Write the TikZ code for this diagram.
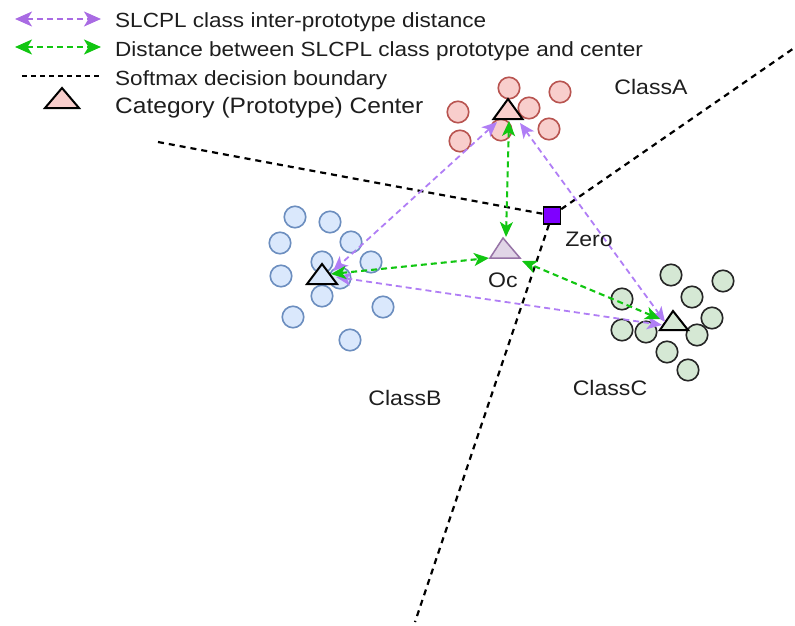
\documentclass[tikz,border=0pt]{standalone}
\usepackage{fontspec}
\setmainfont{Liberation Sans}[FakeStretch=1.1]
\usetikzlibrary{arrows.meta}

\definecolor{pinkfill}{HTML}{F8CECC}
\definecolor{pinkdraw}{HTML}{B85450}
\definecolor{bluefill}{HTML}{DAE8FC}
\definecolor{bluedraw}{HTML}{6C8EBF}
\definecolor{greenfill}{HTML}{D5E8D4}
\definecolor{greendraw}{HTML}{262626}
\definecolor{ocfill}{HTML}{E1D5E7}
\definecolor{ocdraw}{HTML}{9673A6}
\definecolor{protoline}{HTML}{B07EF5}
\definecolor{centerline}{HTML}{11C611}
\definecolor{zerofill}{HTML}{7F00FF}
\definecolor{txt}{HTML}{1E1E1E}

\tikzset{
  pt/.style={circle, minimum size=21.5pt, inner sep=0pt, line width=1.6pt},
  ptA/.style={pt, fill=pinkfill, draw=pinkdraw},
  ptB/.style={pt, fill=bluefill, draw=bluedraw},
  ptC/.style={pt, fill=greenfill, draw=greendraw},
  tri/.style={line width=2pt, draw=black, line join=miter},
  headS/.style={Stealth[length=15pt,width=13pt,inset=4pt]},
  headL/.style={Stealth[length=17pt,width=15pt,inset=4.5pt]},
  parrow/.style={draw=protoline, line width=1.8pt, dash pattern=on 6pt off 4pt,
     {Stealth[length=15pt,width=13pt,inset=4pt]}-{Stealth[length=15pt,width=13pt,inset=4pt]}},
  garrow/.style={draw=centerline, line width=2.1pt, dash pattern=on 6pt off 4pt,
     {Stealth[length=15pt,width=13pt,inset=4pt]}-{Stealth[length=15pt,width=13pt,inset=4pt]}},
  bigheads/.style={{Stealth[length=17pt,width=15pt,inset=4.5pt]}-{Stealth[length=17pt,width=15pt,inset=4.5pt]}},
  boundary/.style={draw=black, line width=2.2pt, dash pattern=on 6pt off 5pt},
  lbl/.style={text=txt, inner sep=0pt, font=\fontsize{21}{25}\selectfont},
  legend/.style={text=txt, inner sep=0pt, anchor=base west, font=\fontsize{20.5}{24}\selectfont},
}

\begin{document}
\begin{tikzpicture}[x=1pt, y=-1pt]
\useasboundingbox (0,0) rectangle (795,626);

% ---- legend ----
\coordinate (lg1a) at (15,19);  \coordinate (lg1b) at (101,19);
\coordinate (lg2a) at (15,47);  \coordinate (lg2b) at (101,47);
\coordinate (lg3a) at (22,76);  \coordinate (lg3b) at (101,76);
\coordinate (lg4)  at (62,98);
\draw[parrow, bigheads, draw=protoline!85!violet] (lg1a) -- (lg1b);
\draw[garrow, bigheads] (lg2a) -- (lg2b);
\draw[draw=black, line width=1.7pt, dash pattern=on 5pt off 4pt] (lg3a) -- (lg3b);
\draw[tri, fill=pinkfill] (lg4) +(-17,10) -- +(0,-10) -- +(17,10) -- cycle;
\node[legend] (leg1) at (115,28) {SLCPL class inter-prototype distance};
\node[legend] (leg2) at (115,57) {Distance between SLCPL class prototype and center};
\node[legend] (leg3) at (115,85) {Softmax decision boundary};
\node[legend, font=\fontsize{22.3}{26}\selectfont] (leg4) at (115,113) {Category (Prototype) Center};

% ---- decision boundaries meeting at the origin ----
\coordinate (bd1) at (158,142);
\coordinate (bd2) at (797,46);
\coordinate (bd3) at (415,622);
\node[draw=black, fill=zerofill, line width=1.4pt, minimum size=17pt, inner sep=0pt] (zero) at (552,215.5) {};
\draw[boundary] (bd1) -- (zero);
\draw[boundary] (zero) -- (bd2);
\draw[boundary] (zero) -- (bd3);
\node[draw=black, fill=zerofill, line width=1.4pt, minimum size=17pt, inner sep=0pt] at (zero) {};

% ---- class A samples ----
\node[ptA] (a1) at (509,88) {};
\node[ptA] (a2) at (560,92) {};
\node[ptA] (a3) at (458,112) {};
\node[ptA] (a4) at (529,108) {};
\node[ptA] (a5) at (460,141) {};
\node[ptA] (a6) at (549,129) {};
\node[ptA] (a7) at (501,130) {};

% ---- class B samples ----
\node[ptB] (b1) at (295,217) {};
\node[ptB] (b2) at (330,222) {};
\node[ptB] (b3) at (280,243) {};
\node[ptB] (b4) at (351,242) {};
\node[ptB] (b5) at (322,262) {};
\node[ptB] (b6) at (371,262) {};
\node[ptB] (b7) at (281,276) {};
\node[ptB] (b8) at (340,278) {};
\node[ptB] (b9) at (322,296) {};
\node[ptB] (b10) at (383,307) {};
\node[ptB] (b11) at (293,317) {};
\node[ptB] (b12) at (350,340) {};

% ---- class C samples ----
\node[ptC] (c1) at (671,275) {};
\node[ptC] (c2) at (723,281) {};
\node[ptC] (c3) at (622,299) {};
\node[ptC] (c4) at (692,297) {};
\node[ptC] (c5) at (712,318) {};
\node[ptC] (c6) at (622,330) {};
\node[ptC] (c7) at (646,332) {};
\node[ptC] (c8) at (697,335) {};
\node[ptC] (c9) at (667,352) {};
\node[ptC] (c10) at (688,370) {};

% ---- prototypes and the overall center ----
\coordinate (tA) at (508,109);
\coordinate (tB) at (322,274);
\coordinate (tC) at (674,320.5);
\coordinate (tO) at (505,248);
\draw[tri, fill=pinkfill] (tA) +(-14.5,10) -- +(0,-10) -- +(14.5,10) -- cycle;
\draw[tri, fill=bluefill] (tB) +(-15,10) -- +(0,-10) -- +(15,10) -- cycle;
\draw[tri, fill=greenfill] (tC) +(-14,9.5) -- +(-1,-9.5) -- +(14,9.5) -- cycle;
\draw[tri, fill=ocfill, draw=ocdraw, line width=1.5pt] (tO) +(-15,10) -- +(-2,-10) -- +(15,10) -- cycle;

% ---- arrow end points ----
\coordinate (pAB) at (497,122);
\coordinate (pAO) at (509,121);
\coordinate (pAC) at (520,123);
\coordinate (pBA) at (333,271);
\coordinate (pBO) at (331,274);
\coordinate (pBC) at (336,277);
\coordinate (pCA) at (665,322);
\coordinate (pCO) at (660,319);
\coordinate (pCB) at (662,325);
\coordinate (pOA) at (506,237);
\coordinate (pOB) at (489,258);
\coordinate (pOC) at (522,261);

% inter-prototype distances
\draw[parrow] (pAB) -- (pBA);
\draw[parrow] (pAC) -- (pCA);
\draw[parrow] (pBC) -- (pCB);
% prototype-to-center distances
\draw[garrow] (pAO) -- (pOA);
\draw[garrow] (pBO) -- (pOB);
\draw[garrow] (pCO) -- (pOC);

% ---- labels ----
\node[lbl, anchor=base] (lA) at (651,95) {ClassA};
\node[lbl, anchor=base] (lB) at (405,405) {ClassB};
\node[lbl, anchor=base] (lC) at (610,395) {ClassC};
\node[lbl, anchor=base] (lZ) at (589,246) {Zero};
\node[lbl, anchor=base] (lO) at (503,287) {Oc};
\end{tikzpicture}
\end{document}
